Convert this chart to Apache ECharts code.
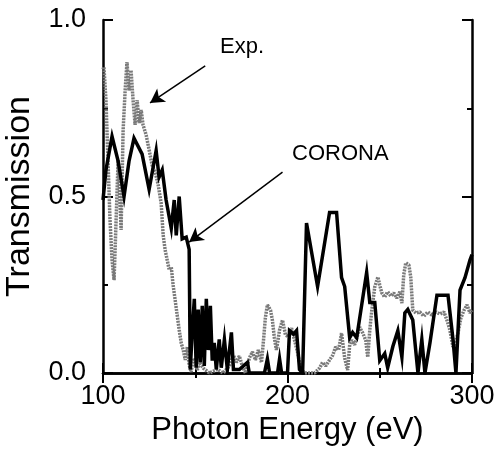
<!DOCTYPE html>
<html>
<head>
<meta charset="utf-8">
<script src="https://cdn.jsdelivr.net/npm/echarts@6/dist/echarts.min.js"></script>
<style>
  html, body { margin: 0; padding: 0; background: #fff; }
  #chart { width: 495px; height: 449px; }
</style>
</head>
<body>
<div id="chart"></div>
<script>
// Measured transmission (Exp.)
const expEnergy = [100.0,100.5,101.6,102.7,103.8,104.9,106.0,107.1,108.2,109.2,
  109.8,110.9,112.0,113.0,114.1,115.2,116.3,117.4,118.5,119.6,
  120.7,121.7,123.4,125.0,126.6,128.3,129.9,131.5,132.6,133.7,
  134.8,135.9,137.0,138.0,139.1,140.2,141.3,142.4,143.5,144.6,
  145.7,146.7,147.8,148.9,150.0,151.1,152.2,154.3,157.6,162.0,
  165.2,168.5,170.7,172.3,173.9,175.5,177.2,179.3,181.0,182.6,
  184.2,185.9,187.0,188.0,189.1,190.8,191.8,192.9,194.0,195.7,
  197.3,198.9,200.5,202.2,203.8,205.4,207.1,209.2,214.7,217.4,
  219.0,220.7,222.8,224.5,226.1,227.7,229.3,231.0,232.6,233.7,
  234.8,236.4,238.0,239.1,240.8,242.4,243.5,244.6,245.7,247.3,
  249.0,250.0,251.1,252.7,254.3,256.0,257.6,259.2,260.9,262.0,
  263.0,264.1,265.8,266.8,267.9,269.6,271.7,273.9,276.1,278.3,
  280.4,282.6,284.8,286.4,288.0,289.7,291.3,292.4,294.0,295.7,
  297.3,298.9,300.0];
const expTrans = [0.86,0.867,0.773,0.603,0.433,0.32,0.263,0.433,0.603,0.49,
  0.405,0.688,0.80,0.881,0.80,0.858,0.773,0.703,0.773,0.708,
  0.745,0.703,0.674,0.632,0.589,0.569,0.533,0.482,0.391,0.348,
  0.32,0.292,0.30,0.249,0.207,0.164,0.122,0.085,0.065,0.037,
  0.074,0.023,0.003,0.042,0.031,0.008,0.03,0.014,0.0,0.01,
  0.0,0.02,0.05,0.03,0.048,0.02,0.0,0.042,0.06,0.037,
  0.065,0.03,0.093,0.156,0.193,0.178,0.15,0.099,0.065,0.122,
  0.15,0.108,0.102,0.127,0.093,0.06,0.014,0.0,0.0,0.014,
  0.03,0.02,0.037,0.05,0.074,0.065,0.113,0.042,0.008,0.08,
  0.093,0.08,0.108,0.13,0.113,0.093,0.045,0.122,0.178,0.244,
  0.272,0.249,0.227,0.215,0.23,0.218,0.227,0.212,0.23,0.198,
  0.278,0.312,0.306,0.272,0.178,0.17,0.173,0.161,0.173,0.164,
  0.173,0.167,0.173,0.15,0.122,0.074,0.093,0.113,0.156,0.178,
  0.193,0.17,0.178];

// CORONA simulation
const coronaEnergy = [100.0,101.6,104.9,108.2,111.4,114.1,116.8,121.2,125.0,128.8,
  130.4,132.1,134.2,137.0,138.6,139.7,141.3,142.9,145.1,146.7,
  147.3,148.4,149.5,150.5,151.6,152.7,153.8,154.9,156.0,157.1,
  158.2,159.2,160.3,161.4,163.0,164.1,165.8,167.4,169.6,170.7,
  173.9,178.3,179.3,187.5,189.1,190.3,194.6,195.7,196.8,200.0,
  201.1,203.3,204.9,206.5,208.2,210.3,216.3,222.8,226.6,229.3,
  231.0,233.7,235.3,237.5,242.9,244.6,247.3,250.0,252.7,254.3,
  257.1,259.8,262.0,263.6,265.2,267.9,270.7,272.8,274.5,277.2,
  281.0,287.0,289.7,291.3,293.5,296.2,298.9,300.0];
const coronaTrans = [0.49,0.575,0.67,0.60,0.50,0.60,0.665,0.62,0.52,0.63,
  0.555,0.575,0.49,0.41,0.49,0.39,0.50,0.38,0.385,0.35,
  0.01,0.12,0.21,0.015,0.18,0.03,0.19,0.02,0.21,0.065,
  0.19,0.035,0.085,0.01,0.095,0.015,0.095,0.01,0.115,0.01,
  0.01,0.03,0.0,0.0,0.04,0.0,0.0,0.04,0.0,0.0,
  0.12,0.11,0.12,0.01,0.0,0.425,0.245,0.455,0.455,0.27,
  0.245,0.10,0.115,0.10,0.285,0.20,0.20,0.035,0.055,0.015,
  0.075,0.12,0.045,0.17,0.18,0.15,0.0,0.095,0.0,0.085,
  0.22,0.22,0.095,0.0,0.235,0.27,0.32,0.335];

// Annotation arrows: [fromEnergy, fromT, toEnergy, toT]
const expArrow = [155.4, 0.87, 125.5, 0.765];
const coronaArrow = [197.3, 0.569, 146.7, 0.371];

const FONT = '"Liberation Sans", Arial, Helvetica, sans-serif';

const zip = (xs, ys) => xs.map((x, i) => [x, ys[i]]);

const frameAxis = {
  axisLine: { show: true, lineStyle: { color: '#000', width: 2.5 } },
  axisTick: { show: true, inside: true, length: 10, lineStyle: { color: '#000', width: 2 } },
  minorTick: { show: true, splitNumber: 2, length: 5, lineStyle: { color: '#000', width: 2 } },
  splitLine: { show: false }
};

const chart = echarts.init(document.getElementById('chart'), null, { renderer: 'canvas' });
chart.setOption({
  animation: false,
  backgroundColor: '#fff',
  grid: { left: 103, right: 23, top: 20, bottom: 76, containLabel: false, outerBoundsMode: 'none' },
  xAxis: [
    Object.assign({
      type: 'value', min: 100, max: 300, interval: 100, position: 'bottom',
      name: 'Photon Energy (eV)', nameLocation: 'middle', nameGap: 42, nameMoveOverlap: false,
      nameTextStyle: { fontFamily: FONT, fontSize: 31, color: '#000' },
      axisLabel: { fontFamily: FONT, fontSize: 27, color: '#000', margin: 10 }
    }, frameAxis),
    Object.assign({
      type: 'value', min: 100, max: 300, interval: 100, position: 'top',
      axisLabel: { show: false }
    }, frameAxis)
  ],
  yAxis: [
    Object.assign({
      type: 'value', min: 0, max: 1, interval: 0.5, position: 'left',
      name: 'Transmission', nameLocation: 'middle', nameGap: 66, nameMoveOverlap: false,
      nameTextStyle: { fontFamily: FONT, fontSize: 34, color: '#000' },
      axisLabel: {
        fontFamily: FONT, fontSize: 27, color: '#000', margin: 17,
        formatter: v => v.toFixed(1)
      }
    }, frameAxis),
    Object.assign({
      type: 'value', min: 0, max: 1, interval: 0.5, position: 'right',
      axisLabel: { show: false }
    }, frameAxis)
  ],
  series: [
    {
      name: 'Exp.', type: 'line', data: zip(expEnergy, expTrans),
      showSymbol: false, smooth: false, z: 2,
      lineStyle: { color: '#7a7a7a', width: 3.5, type: [2, 1] },
      markLine: {
        silent: true, symbol: ['none', 'arrow'], symbolSize: [12, 14],
        label: { show: false },
        lineStyle: { color: '#000', width: 1.5, type: 'solid' },
        data: [
          [{ coord: [expArrow[0], expArrow[1]] }, { coord: [expArrow[2], expArrow[3]] }],
          [{ coord: [coronaArrow[0], coronaArrow[1]] }, { coord: [coronaArrow[2], coronaArrow[3]] }]
        ]
      }
    },
    {
      name: 'CORONA', type: 'line', data: zip(coronaEnergy, coronaTrans),
      showSymbol: false, smooth: false, z: 3,
      lineStyle: { color: '#000', width: 3.5, join: 'miter' }
    }
  ],
  graphic: [
    { type: 'text', left: 220, top: 36, style: { text: 'Exp.', font: '22px ' + FONT, fill: '#000' } },
    { type: 'text', left: 292, top: 143, style: { text: 'CORONA', font: '22px ' + FONT, fill: '#000' } }
  ]
});
</script>
</body>
</html>
